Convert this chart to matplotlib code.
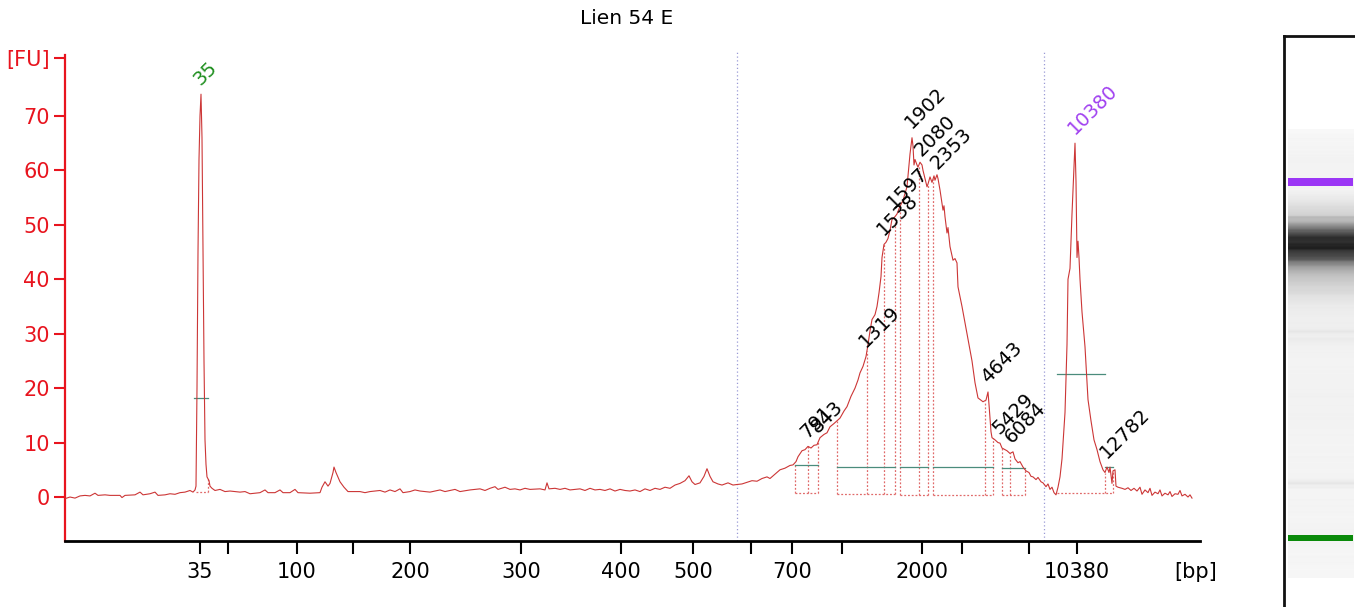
import numpy as np
import matplotlib
matplotlib.use("Agg")
import matplotlib.pyplot as plt

plt.rcParams['font.family'] = ['DejaVu Sans']

title = "Lien 54 E"

# migration time (s) and fluorescence (FU)
time_s = [
    20.5, 21.0, 21.5, 22.0, 22.5, 23.0, 23.5, 23.8, 24.5, 25.0, 26.0, 26.2, 26.5, 27.5, 28.0, 28.3, 29.0, 29.5, 29.8, 30.5, 31.0, 31.5, 32.0, 32.5, 33.0, 33.3, 33.5,
    33.6, 33.7, 33.8, 33.9, 34.0, 34.1, 34.2, 34.3, 34.4, 34.5, 34.6, 34.7, 34.9, 35.0, 35.2, 35.5,
    36.0, 36.5, 37.0, 38.0, 38.5, 39.0, 40.0, 40.5, 40.8, 41.5, 42.0, 42.3, 43.0, 43.5, 43.8, 45.0, 46.0, 46.2, 46.5, 46.8, 47.0, 47.3, 47.4, 47.6, 48.0, 48.4, 48.8,
    50.0, 50.5, 51.0, 52.0, 52.5, 53.0, 53.5, 54.0, 54.3, 55.0, 55.5, 56.0, 57.0, 58.0, 58.5, 59.0, 59.5, 60.0, 61.0, 62.0, 62.5, 63.0, 63.5, 63.8, 64.5, 65.0, 65.5, 66.0, 66.5, 67.0,
    68.0, 68.5, 68.7, 68.9, 69.5, 70.0, 70.5, 71.0, 72.0, 72.5, 73.0, 73.5, 74.0, 74.5, 75.0, 75.5, 76.0, 76.5, 77.0, 77.5, 78.0, 78.5, 79.0, 79.5, 80.0, 80.5, 81.0, 81.5,
    82.0, 82.5, 82.9, 83.2, 83.5, 84.0, 84.4, 84.7, 85.0, 85.3, 85.8, 86.2, 86.8, 87.3, 87.7, 88.2, 88.7, 89.2, 89.7, 90.2, 90.7, 91.0, 91.5, 92.0, 92.5, 93.0, 93.3,
    93.6, 93.8, 94.2, 94.5, 94.8, 95.1, 95.4, 95.7, 96.0, 96.4, 96.7, 97.0, 97.4, 97.7, 98.0, 98.4, 98.7, 99.1, 99.5, 99.8, 100.0, 100.3, 100.6, 100.8, 101.0, 101.2, 101.5, 101.7, 101.9, 102.1, 102.2,
    102.4, 102.6, 102.8, 103.0, 103.2, 103.5, 103.7, 104.0, 104.3, 104.7, 105.0, 105.2, 105.3, 105.4, 105.5, 105.7, 105.8, 106.0, 106.2, 106.3, 106.5, 106.7, 106.8, 107.0, 107.2, 107.4, 107.5, 107.7, 107.8, 108.0,
    108.3, 108.4, 108.5, 108.7, 108.8, 109.0, 109.3, 109.5, 109.7, 109.8, 110.2, 110.7, 111.2, 111.5, 111.8, 112.3, 112.6, 112.8, 112.9, 113.1, 113.2,
    113.5, 113.8, 114.0, 114.2, 114.4, 114.7, 115.0, 115.3, 115.5, 115.8, 116.0, 116.3, 116.6, 116.9, 117.1, 117.3, 117.6, 117.8, 118.1, 118.3, 118.6, 118.8, 119.0, 119.2, 119.4, 119.6, 119.8, 120.0, 120.2,
    120.5, 120.7, 120.8, 121.0, 121.2, 121.4, 121.5, 121.6, 121.7, 121.8, 121.9, 122.0, 122.2, 122.5, 122.8, 123.1, 123.4, 123.7, 124.0, 124.3, 124.5, 124.7, 124.9, 125.0, 125.2, 125.3, 125.5, 125.6, 125.8,
    126.2, 126.5, 126.8, 127.1, 127.4, 127.7, 128.0, 128.2, 128.5, 128.8, 129.0, 129.2, 129.5, 129.8, 130.0, 130.2, 130.5, 130.8, 131.0, 131.2, 131.5, 131.8, 132.0, 132.2, 132.5, 132.8, 133.0, 133.2,
]
fluorescence_fu = [
    -0.3, 0.0, -0.2, 0.2, 0.3, 0.2, 0.7, 0.3, 0.4, 0.3, 0.3, -0.1, 0.3, 0.4, 0.9, 0.4, 0.6, 0.9, 0.3, 0.4, 0.6, 0.5, 0.8, 0.9, 1.2, 0.9, 1.3,
    2.0, 20.0, 45.0, 62.0, 70.0, 74.0, 66.0, 45.0, 25.0, 10.5, 6.0, 3.7, 3.0, 2.0, 1.6, 1.2,
    1.4, 1.0, 1.1, 0.9, 1.0, 0.6, 0.8, 1.3, 0.8, 0.8, 1.3, 0.8, 0.8, 1.4, 0.8, 0.7, 0.8, 1.8, 2.8, 2.0, 2.5, 4.5, 5.5, 4.5, 2.8, 1.8, 1.0,
    1.0, 0.8, 1.0, 1.2, 0.9, 1.3, 1.0, 1.5, 0.8, 1.0, 1.3, 1.1, 0.9, 1.3, 1.0, 1.2, 1.4, 1.0, 1.3, 1.5, 1.2, 1.6, 1.9, 1.4, 1.8, 1.4, 1.5, 1.3, 1.6, 1.4,
    1.5, 1.3, 2.6, 1.5, 1.6, 1.4, 1.6, 1.3, 1.5, 1.2, 1.6, 1.3, 1.4, 1.2, 1.5, 1.1, 1.4, 1.2, 1.1, 1.3, 1.0, 1.5, 1.2, 1.6, 1.4, 1.8, 1.6, 2.2,
    2.5, 3.0, 3.9, 2.8, 2.3, 2.6, 3.8, 5.2, 3.8, 2.8, 2.4, 2.2, 2.6, 2.2, 2.3, 2.4, 2.7, 3.0, 2.9, 3.4, 3.7, 3.4, 4.2, 5.0, 5.3, 5.8, 5.9,
    6.5, 7.4, 8.5, 8.7, 9.3, 9.0, 9.5, 9.6, 10.9, 11.5, 11.8, 12.9, 13.5, 14.0, 14.5, 15.8, 16.6, 18.5, 20.0, 21.5, 22.8, 24.0, 25.8, 28.0, 30.5, 32.6, 33.5, 35.0, 37.5, 40.5, 44.0,
    46.4, 46.8, 47.5, 49.0, 51.0, 51.5, 52.0, 53.4, 54.5, 57.0, 63.0, 66.0, 64.5, 61.0, 62.0, 61.0, 60.6, 61.5, 61.0, 60.0, 58.5, 57.0, 57.5, 58.8, 57.8, 59.0, 58.2, 59.2, 58.5, 56.4,
    52.7, 53.5, 51.5, 48.5, 49.5, 46.0, 43.5, 43.8, 43.0, 38.6, 35.0, 30.0, 25.0, 21.0, 18.2, 17.5, 17.8, 19.3, 17.0, 12.0, 10.9,
    10.5, 10.0, 9.9, 9.0, 8.8, 8.5, 8.0, 8.3, 7.0, 6.3, 6.5, 5.5, 4.8, 4.5, 3.8, 3.7, 3.2, 3.6, 2.8, 2.6, 1.9, 2.4, 1.4, 1.8, 0.8, 0.4, 1.8, 3.7, 7.0,
    15.5, 28.0, 40.0, 42.0, 52.0, 61.0, 65.0, 58.0, 44.0, 47.0, 44.0, 40.0, 34.0, 27.6, 17.9, 14.0, 10.5, 8.7, 6.5, 5.0, 4.5, 5.5, 4.5, 5.5, 2.5, 4.8, 5.0, 2.0, 1.8,
    1.6, 1.4, 1.7, 1.2, 1.6, 1.1, 1.8, 0.5, 1.3, 0.8, 1.6, 0.3, 0.9, 0.6, 1.3, 0.2, 0.7, 0.4, 1.0, 0.1, 0.6, 0.5, 1.2, 0.2, 0.5, 0.0, 0.4, -0.2,
]

# size axis (bp) ticks at their migration times
tick_times = [34.0, 36.8, 43.7, 49.3, 55.0, 66.1, 76.1, 83.3, 89.1, 93.2, 98.2, 106.2, 110.2, 116.9, 121.7]
tick_labels = ['35', '', '100', '', '200', '300', '400', '500', '', '700', '', '2000', '', '', '10380']

fu_ticks = [0, 10, 20, 30, 40, 50, 60, 70, 80.6]
fu_tick_labels = ['0', '10', '20', '30', '40', '50', '60', '70', '[FU]']

# called peaks
peak_labels = ['35', '791', '843', '1319', '1538', '1597', '1902', '2080', '2353', '4643', '5429', '6084', '10380', '12782']
peak_times = [34.1, 94.7, 95.8, 100.6, 102.4, 103.4, 105.2, 106.2, 107.8, 112.8, 114.0, 115.2, 121.5, 124.7]
peak_kind = ['lower', 'p', 'p', 'p', 'p', 'p', 'p', 'p', 'p', 'p', 'p', 'p', 'upper', 'p']

# region (smear) windows with baseline, and peak boundaries
seg_start = [33.6, 93.5, 97.7, 104.0, 107.3, 114.2, 119.7]
seg_end = [34.8, 95.8, 103.5, 106.8, 113.3, 116.5, 125.3]
seg_base = [1.0, 0.7, 0.5, 0.4, 0.4, 0.3, 0.7]
boundary_times = [34.8, 93.5, 94.8, 95.8, 97.7, 100.7, 102.4, 103.5, 104.0, 105.9, 106.8,
                  107.3, 112.5, 113.3, 114.2, 115.0, 116.5, 124.5, 125.3]
width_start = [33.4, 93.5, 97.7, 104.0, 107.3, 114.2, 119.7, 124.5]
width_end = [34.8, 95.8, 103.5, 106.8, 113.3, 116.5, 124.5, 125.3]
width_level = [18.2, 5.9, 5.5, 5.5, 5.5, 5.3, 22.6, 5.5]

range_lines = [87.7, 118.4]

RED = '#e8141e'
TRACE = '#cc3636'
DOT = '#e06a6a'
TEAL = '#4a8c7c'
GREEN = '#1f8f1f'
PURPLE = '#a040f0'

W, H = 1355, 607
fig = plt.figure(figsize=(W / 100, H / 100), dpi=100)
ax = fig.add_axes([65 / W, (H - 541) / H, (1200 - 65) / W, (541 - 55) / H])

ax.plot(time_s, fluorescence_fu, color=TRACE, lw=0.8, zorder=3)

for x in range_lines:
    ax.axvline(x, ymin=0, ymax=1.006, color='#9a9ad6', lw=0.9, ls=(0, (1, 2)), clip_on=False, zorder=1)

for s, e, b in zip(seg_start, seg_end, seg_base):
    ax.plot([s, e], [b, b], color=DOT, lw=0.9, ls=(0, (1.5, 1.5)), zorder=2)
for tb in boundary_times:
    base = 0.5
    for s, e, b in zip(seg_start, seg_end, seg_base):
        if s - 1e-6 <= tb <= e + 1e-6:
            base = b
    top = np.interp(tb, time_s, fluorescence_fu)
    ax.plot([tb, tb], [base, top], color=DOT, lw=0.9, ls=(0, (1.5, 1.5)), zorder=2)
for s, e, lv in zip(width_start, width_end, width_level):
    ax.plot([s, e], [lv, lv], color=TEAL, lw=0.9, zorder=2)

for lab, tt, kind in zip(peak_labels, peak_times, peak_kind):
    col = GREEN if kind == 'lower' else (PURPLE if kind == 'upper' else 'black')
    yv = np.interp(tt, time_s, fluorescence_fu)
    ax.annotate(lab, (tt, yv), xytext=(2, 4), textcoords='offset points', rotation=45,
                ha='left', va='bottom', rotation_mode='anchor', fontsize=14, color=col, zorder=5)

ax.set_xlim(20.5, 134.0)
ax.set_ylim(-8.08, 81.2)
ax.set_xticks(tick_times)
ax.set_xticklabels(tick_labels)
ax.set_yticks(fu_ticks)
ax.set_yticklabels(fu_tick_labels)
for sp in ['top', 'right']:
    ax.spines[sp].set_visible(False)
ax.spines['left'].set_color(RED)
ax.spines['left'].set_linewidth(1.6)
ax.spines['bottom'].set_color('black')
ax.spines['bottom'].set_linewidth(2.0)
ax.tick_params(axis='y', colors=RED, length=8, width=1.5, labelsize=15, pad=3)
ax.tick_params(axis='x', colors='black', length=9, width=1.5, labelsize=15, pad=6)

fig.text(627 / W, 1 - 18 / H, title, ha='center', va='center', fontsize=14.5)
fig.text(1196 / W, 1 - 572 / H, '[bp]', ha='center', va='center', fontsize=15)

# gel-like lane view
gax = fig.add_axes([1284 / W, 0, 71 / W, (H - 36) / H])
gax.set_xlim(0, 1)
gax.set_ylim(17.16, 157.35)
gax.set_xticks([])
gax.set_yticks([])
for sp in ['right', 'bottom']:
    gax.spines[sp].set_visible(False)
for sp in ['left', 'top']:
    gax.spines[sp].set_color('#111111')
    gax.spines[sp].set_linewidth(2.0)

tg = np.linspace(24.3, 134.3, 700)
fg = np.interp(tg, time_s, fluorescence_fu)
marker_mask = ((tg > 33.0) & (tg < 35.8)) | ((tg > 119.6) & (tg < 126.0))
fg = np.where(marker_mask, 1.0, fg)
g = np.clip(0.97 - 0.0135 * fg, 0.12, 0.975)
img = np.repeat(g[:, None], 3, axis=1)[:, None, :]
gax.imshow(img, extent=[0.056, 0.972, 24.3, 134.3], origin='lower', aspect='auto',
           interpolation='bilinear', zorder=1)
gax.axhspan(121.5 - 0.95, 121.5 + 0.95, xmin=0.056, xmax=0.972, color='#9b36f5', lw=0, zorder=2)
gax.axhspan(34.1 - 0.7, 34.1 + 0.7, xmin=0.056, xmax=0.972, color='#0a8a0a', lw=0, zorder=2)

fig.savefig('out.png', dpi=100)
